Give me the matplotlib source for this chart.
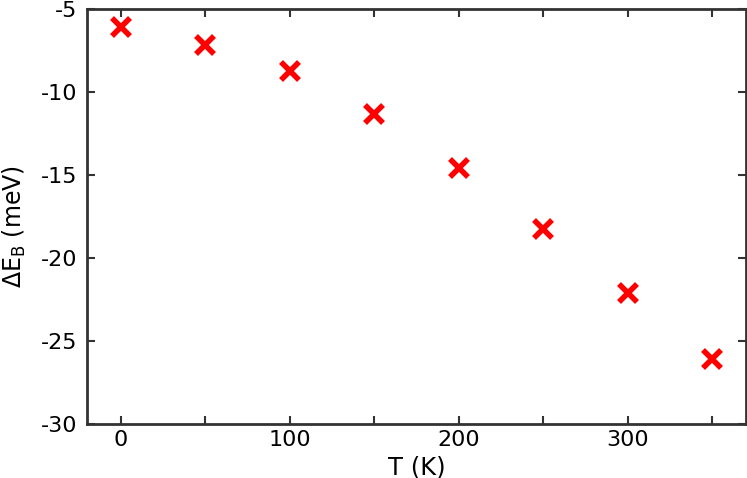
import matplotlib
matplotlib.use("Agg")
import matplotlib.pyplot as plt

# Datos
temperatura = [0, 50, 100, 150, 200, 250, 300, 350]
delta_eb = [-6.08, -7.17, -8.73, -11.35, -14.6, -18.25, -22.09, -26.08]

xticks = [0, 100, 200, 300]
yticks = [-30, -25, -20, -15, -10, -5]

plt.rcParams['font.family'] = ['DejaVu Sans']

fig = plt.figure(figsize=(7.47, 4.78), dpi=100)
ax = fig.add_axes([87 / 747, 1 - 424 / 478, (746 - 87) / 747, (424 - 9) / 478])

ax.plot(temperatura, delta_eb, linestyle='none', marker='x',
        markersize=13, markeredgewidth=4, color='#ff0000')

ax.set_xlim(-20, 370)
ax.set_ylim(-30, -5)
ax.set_xticks(xticks)
ax.set_xticks([50, 150, 250, 350], minor=True)
ax.set_yticks(yticks)
ax.set_yticklabels([str(v) for v in yticks])

ax.tick_params(which='both', direction='in', top=True, right=True,
               length=6, width=1.5, color='#333333', labelsize=16)
ax.tick_params(axis='x', pad=4)
ax.tick_params(axis='y', pad=7)
for s in ax.spines.values():
    s.set_linewidth(2)
    s.set_color('#333333')

ax.set_xlabel('T (K)', fontsize=17.5, labelpad=4)
ax.set_ylabel(r'$\Delta$E$_\mathrm{B}$ (meV)', fontsize=17)
ax.yaxis.set_label_coords(-0.089, 0.475)

fig.savefig('out.png', dpi=100)
